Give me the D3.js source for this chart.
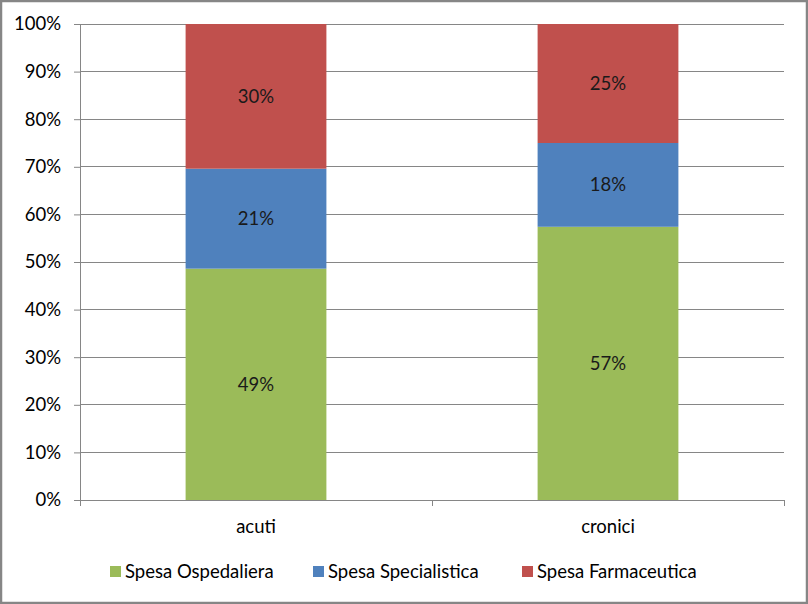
<!DOCTYPE html>
<html><head><meta charset="utf-8">
<script src="https://cdn.jsdelivr.net/npm/d3@7"></script>
<style>body{margin:0;background:#fff}svg{display:block}</style>
</head><body>
<script>
const categories = ["acuti", "cronici"];
const seriesNames = ["Spesa Ospedaliera", "Spesa Specialistica", "Spesa Farmaceutica"];
const ospedaliera = [48.6, 57.4];
const specialistica = [21.0, 17.6];
const farmaceutica = [30.4, 25.0];
const labelOsp = ["49%", "57%"];
const labelSpec = ["21%", "18%"];
const labelFarm = ["30%", "25%"];
const yTicks = [0,10,20,30,40,50,60,70,80,90,100];
const colors = ["#9BBB59", "#4F81BD", "#C0504D"];

(function(){
const W = 808, H = 604;
const FONT = "Lato, 'Open Sans', sans-serif";
const FS = 18.5;
const svg = d3.select("body").append("svg").attr("width", W).attr("height", H)
  .style("font-family", FONT);
svg.append("rect").attr("x",1).attr("y",1).attr("width",W-2).attr("height",H-2)
  .attr("fill","#fff").attr("stroke","#868686").attr("stroke-width",2.5);

const mLeft = 80, mRight = 784, mTop = 24, mBottom = 500;
const x = d3.scaleBand().domain(categories).range([mLeft, mRight]).paddingInner(0.6).paddingOuter(0.3);
const y = d3.scaleLinear().domain([0, 100]).range([mBottom, mTop]);

svg.append("g").selectAll("line").data(yTicks.filter(d=>d>0)).join("line")
  .attr("x1", mLeft).attr("x2", mRight).attr("y1", d=>y(d)).attr("y2", d=>y(d))
  .attr("stroke", "#868686").attr("stroke-width", 1).attr("shape-rendering","crispEdges");

const rows = categories.map((c,i)=>({cat:c, vals:[ospedaliera[i], specialistica[i], farmaceutica[i]], labs:[labelOsp[i], labelSpec[i], labelFarm[i]]}));
const g = svg.append("g");
rows.forEach(r=>{
  let cum = 0;
  r.vals.forEach((v,k)=>{
    const y0 = cum, y1 = cum + v; cum = y1;
    g.append("rect").attr("x", x(r.cat)).attr("width", x.bandwidth())
      .attr("y", y(y1)).attr("height", y(y0)-y(y1)).attr("fill", colors[k]);
    g.append("text").attr("x", x(r.cat)+x.bandwidth()/2).attr("y", y((y0+y1)/2))
      .attr("dy","0.35em").attr("text-anchor","middle").attr("font-size",FS)
      .attr("fill","#1a1a1a").text(r.labs[k]);
  });
});

const ya = svg.append("g").attr("transform", `translate(${mLeft},0)`)
  .call(d3.axisLeft(y).tickValues(yTicks).tickSize(6).tickPadding(13).tickFormat(d=>d+"%"));
ya.select(".domain").attr("stroke","#868686");
ya.selectAll(".tick line").attr("stroke","#868686");
ya.selectAll("text").attr("font-size",FS).attr("fill","#000").style("font-family",FONT);

svg.append("line").attr("x1",mLeft).attr("x2",mRight).attr("y1",mBottom).attr("y2",mBottom)
  .attr("stroke","#868686").attr("shape-rendering","crispEdges");
const bounds = [mLeft, (mLeft+mRight)/2, mRight];
svg.append("g").selectAll("line").data(bounds).join("line")
  .attr("x1",d=>d).attr("x2",d=>d).attr("y1",mBottom).attr("y2",mBottom+6)
  .attr("stroke","#868686").attr("shape-rendering","crispEdges");
svg.append("g").selectAll("text").data(categories).join("text")
  .attr("x", d=>x(d)+x.bandwidth()/2).attr("y", 533).attr("text-anchor","middle")
  .attr("font-size",FS).attr("fill","#000").text(d=>d);

const legX = [110, 313, 522];
const leg = svg.append("g");
seriesNames.forEach((n,k)=>{
  leg.append("rect").attr("x", legX[k]).attr("y", 566).attr("width", 11).attr("height", 11).attr("fill", colors[k]);
  leg.append("text").attr("x", legX[k]+15).attr("y", 578).attr("font-size",FS).attr("fill","#000").text(n);
});
})();
</script>
</body></html>
